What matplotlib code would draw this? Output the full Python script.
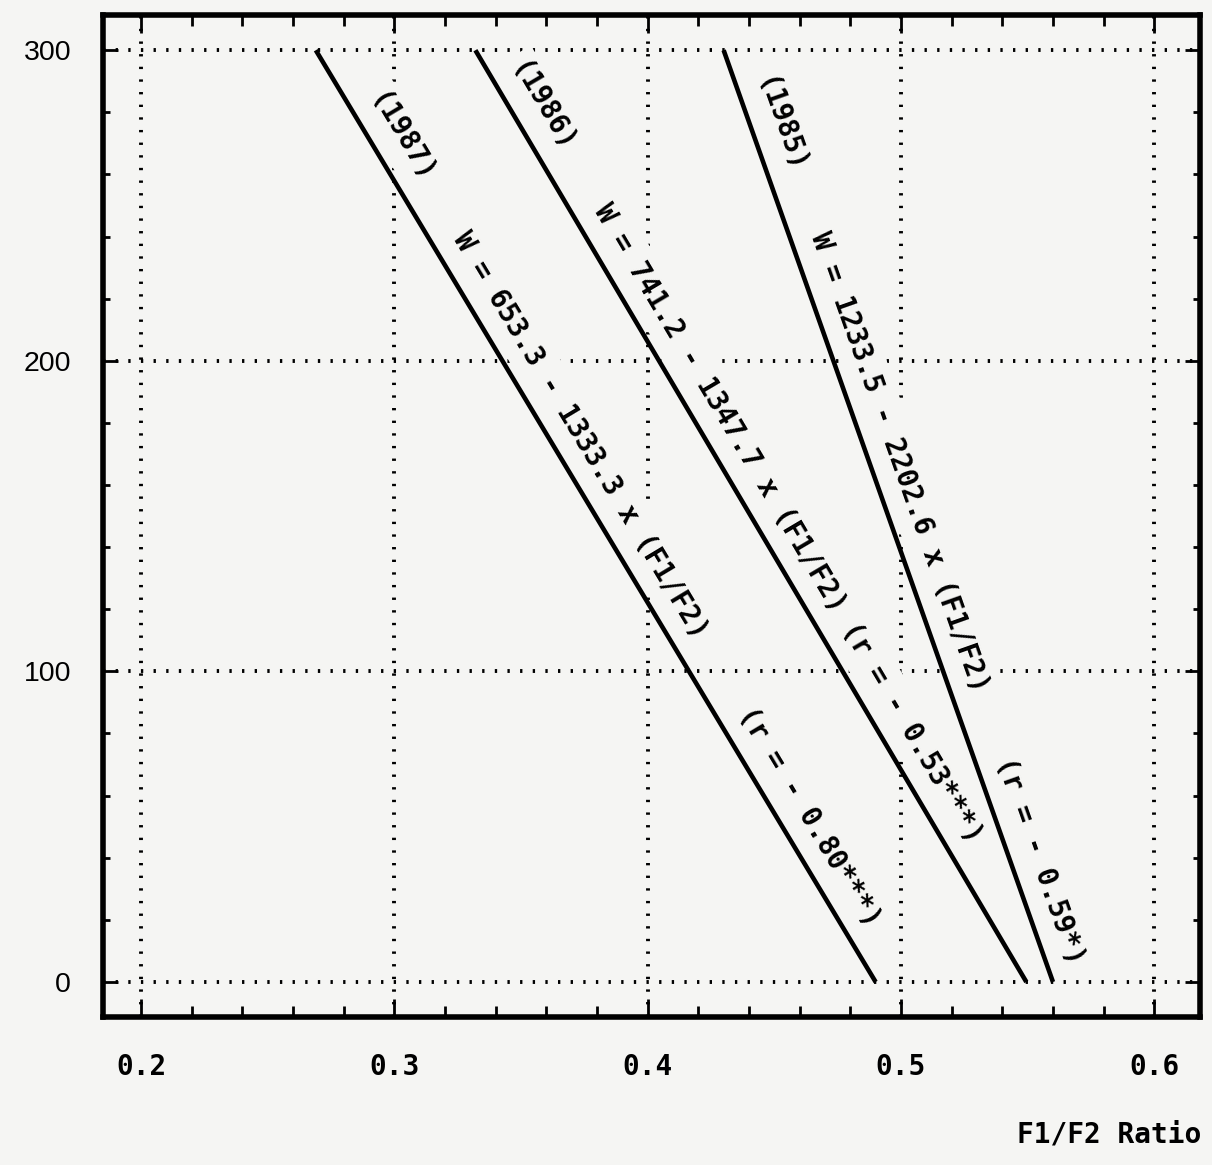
"""Regression lines of W against F1/F2 ratio for 1985-1987."""
import numpy as np
import matplotlib.pyplot as plt
from matplotlib.ticker import MultipleLocator

# values: each line runs from W = 300 down to W = 0
years = ["1985", "1986", "1987"]
x_at_w300 = [0.430, 0.332, 0.269]
x_at_w0 = [0.560, 0.5495, 0.490]
w_ends = [300, 0]

# text written along each line, with the W value where each piece starts
line_labels = [
    [("(1985)", 288), ("W = 1233.5 - 2202.6 x (F1/F2)", 238), ("(r = - 0.59*)", 69)],
    [("(1986)", 291), ("W = 741.2 - 1347.7 x (F1/F2) (r = - 0.53***)", 245)],
    [("(1987)", 281), ("W = 653.3 - 1333.3 x (F1/F2)", 236), ("(r = - 0.80***)", 83)],
]

x_ticks = [0.2, 0.3, 0.4, 0.5, 0.6]
y_ticks = [0, 100, 200, 300]

MONO = "DejaVu Sans Mono"
PAPER = "#f5f5f3"

fig = plt.figure(figsize=(12.12, 11.65), dpi=100, facecolor=PAPER)
ax = fig.add_axes([0.085, 0.127, 0.905, 0.860])
ax.set_facecolor(PAPER)

ax.set_xlim(0.185, 0.618)
ax.set_ylim(-11.3, 311.3)

for x0, x1 in zip(x_at_w300, x_at_w0):
    ax.plot([x0, x1], w_ends, color="black", lw=3.3, solid_capstyle="butt", zorder=3)

# ticks and grid
ax.xaxis.set_minor_locator(MultipleLocator(0.02))
ax.yaxis.set_minor_locator(MultipleLocator(20))
ax.set_xticks(x_ticks)
ax.set_yticks(y_ticks)
ax.set_xticklabels([f"{v:.1f}" for v in x_ticks], family=MONO, fontsize=20, fontweight="bold")
ax.set_yticklabels([str(v) for v in y_ticks], family="Liberation Sans", fontsize=20.5)

ax.tick_params(axis="x", which="both", direction="in", top=True, width=2, pad=26)
ax.tick_params(axis="x", which="major", length=13)
ax.tick_params(axis="x", which="minor", length=8)
ax.tick_params(axis="y", which="both", direction="in", right=True, width=2, pad=23)
ax.tick_params(axis="y", which="major", length=11)
ax.tick_params(axis="y", which="minor", length=5)

for s in ax.spines.values():
    s.set_linewidth(4)

ax.set_axisbelow(True)
ax.grid(which="major", color="black", linestyle=(0, (0.6, 2.65)), linewidth=2.8)

# labels written along the lines; a paper-coloured box hides the grid behind them
for x0, x1, pieces in zip(x_at_w300, x_at_w0, line_labels):
    p0 = ax.transData.transform((x0, w_ends[0]))
    p1 = ax.transData.transform((x1, w_ends[1]))
    d = p1 - p0
    u = d / np.hypot(*d)
    angle = np.degrees(np.arctan2(d[1], d[0]))
    perp = np.array([-u[1], u[0]])
    for txt, w in pieces:
        xw = x0 + (x1 - x0) * (w_ends[0] - w) / (w_ends[0] - w_ends[1])
        off = perp * 10
        ax.annotate(txt, xy=(xw, w), xytext=(off[0], off[1]), textcoords="offset points",
                    rotation=angle, rotation_mode="anchor", ha="left", va="bottom",
                    family=MONO, fontsize=20, fontweight="bold", color="black", zorder=2,
                    bbox=dict(boxstyle="square,pad=0.3", fc=PAPER, ec="none"))

fig.text(0.991, 0.026, "F1/F2 Ratio", family=MONO, fontsize=20, fontweight="bold",
         ha="right", va="center")

fig.savefig("out.png", dpi=100, facecolor=PAPER)
